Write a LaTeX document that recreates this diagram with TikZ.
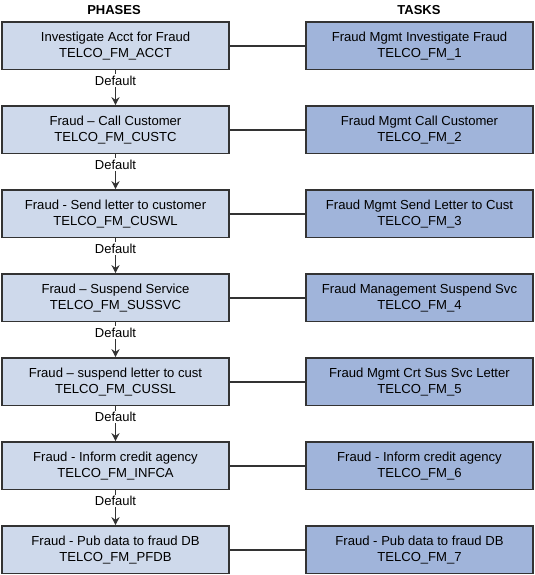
\documentclass[tikz,border=0pt]{standalone}
\usepackage{fontspec}
\setmainfont{Liberation Sans}
\usetikzlibrary{arrows.meta}
\definecolor{phasefill}{HTML}{CED9EB}
\definecolor{taskfill}{HTML}{A0B4DA}
\definecolor{edge}{HTML}{333333}
\tikzset{
  base/.style={draw=edge, line width=1.6bp, minimum width=227bp, minimum height=47.5bp,
    align=center, inner sep=0pt, font=\fontsize{13.1bp}{15.8bp}\selectfont, text=black},
  phase/.style={base, fill=phasefill},
  task/.style={base, fill=taskfill},
  header/.style={font=\fontsize{13bp}{15bp}\selectfont\bfseries},
  link/.style={draw=edge, line width=1.7bp},
  flow/.style={draw=edge, line width=1.3bp, -{Stealth[length=8bp,width=8bp]}},
  lbl/.style={fill=white, inner sep=1.5bp, font=\fontsize{13bp}{15bp}\selectfont}
}
\begin{document}
\begin{tikzpicture}[x=1bp,y=-1bp]
\useasboundingbox (0,0) rectangle (535,575);
\node[header] (hp) at (114,10) {PHASES};
\node[header] (ht) at (419,10) {TASKS};
\foreach \i/\pt/\pc/\tt/\tc in {
  0/Investigate Acct for Fraud/TELCO\_FM\_ACCT/Fraud Mgmt Investigate Fraud/TELCO\_FM\_1,
  1/Fraud – Call Customer/TELCO\_FM\_CUSTC/Fraud Mgmt Call Customer/TELCO\_FM\_2,
  2/Fraud - Send letter to customer/TELCO\_FM\_CUSWL/Fraud Mgmt Send Letter to Cust/TELCO\_FM\_3,
  3/Fraud – Suspend Service/TELCO\_FM\_SUSSVC/Fraud Management Suspend Svc/TELCO\_FM\_4,
  4/Fraud – suspend letter to cust/TELCO\_FM\_CUSSL/Fraud Mgmt Crt Sus Svc Letter/TELCO\_FM\_5,
  5/Fraud - Inform credit agency/TELCO\_FM\_INFCA/Fraud - Inform credit agency/TELCO\_FM\_6,
  6/Fraud - Pub data to fraud DB/TELCO\_FM\_PFDB/Fraud - Pub data to fraud DB/TELCO\_FM\_7}{
  \node[phase] (p\i) at (115.5,{45.75+84*\i}) {\pt\\\pc};
  \node[task] (t\i) at (419.5,{45.75+84*\i}) {\tt\\\tc};
  \draw[link] (p\i) -- (t\i);
}
\foreach \i [evaluate=\i as \j using int(\i+1)] in {0,...,5}{
  \draw[flow] (p\i.south) -- node[lbl, pos=0.3] {Default} (p\j.north);
}
\end{tikzpicture}
\end{document}
